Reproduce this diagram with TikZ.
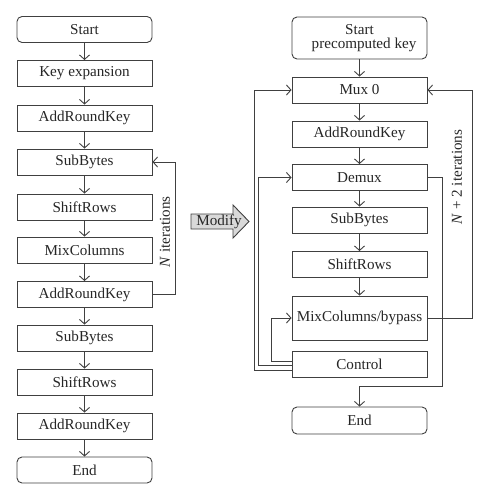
\documentclass[tikz,border=0pt]{standalone}
\usepackage{fontspec}
\setmainfont{Liberation Serif}
\usetikzlibrary{calc,arrows.meta}
\begin{document}
\begin{tikzpicture}[x=1bp,y=-1bp,
  line width=0.9bp, draw=black!75,
  every node/.style={font=\fontsize{15.2}{16}\selectfont, text=black!85},
  lbox/.style={draw=black!75, line width=0.9bp, minimum width=135bp, minimum height=26bp, inner sep=0pt, fill=white},
  rbox/.style={lbox, rounded corners=5bp},
  arr/.style={draw=black!75, -{Straight Barb[length=4.5bp,width=10bp]}},
  ln/.style={draw=black!75}]
\useasboundingbox (0,0) rectangle (489,500);
% left column
\node[rbox] (ls)  at (84.5,29.5) {Start};
\node[lbox] (lk)  at (84.5,73.5) {Key expansion};
\node[lbox] (la1) at (84.5,118) {AddRoundKey};
\node[lbox] (lb1) at (84.5,162) {SubBytes};
\node[lbox] (lr1) at (84.5,207) {ShiftRows};
\node[lbox] (lm)  at (84.5,250) {MixColumns};
\node[lbox] (la2) at (84.5,294.5) {AddRoundKey};
\node[lbox] (lb2) at (84.5,338) {SubBytes};
\node[lbox] (lr2) at (84.5,382) {ShiftRows};
\node[lbox] (la3) at (84.5,426) {AddRoundKey};
\node[rbox] (le)  at (84.5,470) {End};
\foreach \a/\b in {ls/lk,lk/la1,la1/lb1,lb1/lr1,lr1/lm,lm/la2,la2/lb2,lb2/lr2,lr2/la3,la3/le}
  \draw[arr] (\a) -- (\b);
\draw[arr] (la2.east) -- ++(23,0) |- (lb1.east);
\node[rotate=90] (nit) at (165,232) {\textit{N} iterations};
% modify arrow
\draw[fill=black!15, line width=0.9bp] (191,214) -- (233,214) -- (233,205) -- (249,221.5) -- (233,238) -- (233,229) -- (191,229) -- cycle;
\node (mod) at (219,221.5) {Modify};
% right column
\node[rbox, minimum height=42bp, align=center] (rs) at (359.5,38) {Start\\[-2pt]\hspace*{0.6em}precomputed key};
\node[lbox] (mux) at (359.5,90) {Mux 0};
\node[lbox] (ra)  at (359.5,134) {AddRoundKey};
\node[lbox] (dem) at (359.5,177.5) {Demux};
\node[lbox] (rb)  at (359.5,220) {SubBytes};
\node[lbox] (rr)  at (359.5,264.5) {ShiftRows};
\node[lbox, minimum height=44bp] (mix) at (359.5,318) {MixColumns/bypass};
\node[lbox] (ctl) at (359.5,364) {Control};
\node[rbox, minimum height=27bp] (re) at (359.5,420.5) {End};
\foreach \a/\b in {rs/mux,mux/ra,ra/dem,dem/rb,rb/rr,rr/mix}
  \draw[arr] (\a) -- (\b);
% control lines
\draw[arr] ($(ctl.west)+(0,-3)$) -- ++(-20,0) |- (mix.west);
\draw[arr] ($(ctl.west)+(0,1)$) -- ++(-33,0) |- (dem.west);
\draw[arr] ($(ctl.west)+(0,6)$) -- ++(-37,0) |- (mux.west);
% right loops
\coordinate (dj) at ($(re.north)+(0,-20)$);
\draw[arr] (dem.east) -- ++(15,0) |- (dj) -- (re.north);
\draw[arr] (mix.east) -- ++(45,0) |- (mux.east);
\node[rotate=90] (n2) at (457,177) {\textit{N} + 2 iterations};
\end{tikzpicture}
\end{document}
